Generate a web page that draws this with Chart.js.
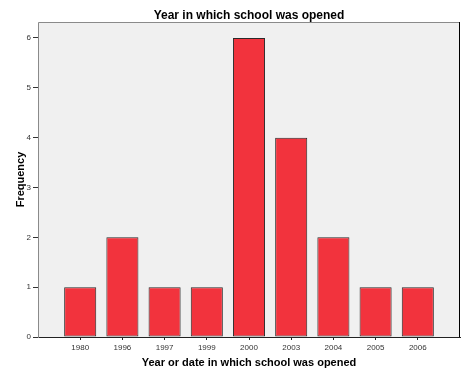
<!DOCTYPE html>
<html>
<head>
<meta charset="utf-8">
<script src="https://cdn.jsdelivr.net/npm/chart.js@4"></script>
<style>
  html, body { margin: 0; padding: 0; background: #fff; }
  #wrap { width: 468px; height: 374px; }
</style>
</head>
<body>
<div id="wrap"><canvas id="grafica" width="468" height="374"></canvas></div>
<script>
const years = ['1980', '1996', '1997', '1999', '2000', '2003', '2004', '2005', '2006'];
const frequencies = [1, 2, 1, 1, 6, 4, 2, 1, 1];
const yTicks = [0, 1, 2, 3, 4, 5, 6];

// plot background + frame like the SPSS output
const plotFrame = {
  id: 'plotFrame',
  beforeDatasetsDraw(chart) {
    const a = chart.chartArea, c = chart.ctx;
    c.save();
    c.fillStyle = '#f0f0f0';
    c.fillRect(a.left, a.top, a.right - a.left, a.bottom - a.top);
    c.lineWidth = 1;
    c.strokeStyle = '#8a8a8a';
    c.beginPath();
    c.moveTo(a.left + 0.5, a.bottom);
    c.lineTo(a.left + 0.5, a.top + 0.5);
    c.lineTo(a.right, a.top + 0.5);
    c.stroke();
    c.strokeStyle = '#000';
    c.beginPath();
    c.moveTo(a.right - 0.5, a.top);
    c.lineTo(a.right - 0.5, a.bottom);
    c.stroke();
    c.restore();
  }
};

const points = years.map((y, i) => ({ x: i, y: frequencies[i] }));

new Chart(document.getElementById('grafica'), {
  type: 'bar',
  data: {
    datasets: [{
      label: 'Frequency',
      data: points,
      backgroundColor: '#f2333d',
      borderColor: '#2a2a2a',
      borderWidth: 1,
      borderSkipped: false,
      categoryPercentage: 1,
      barPercentage: 0.76
    }]
  },
  plugins: [plotFrame],
  options: {
    responsive: false,
    animation: false,
    layout: { padding: { left: 0, right: 8, top: 0, bottom: 0 } },
    plugins: {
      legend: { display: false },
      tooltip: { enabled: false },
      title: {
        display: true,
        text: 'Year in which school was opened',
        fullSize: false,
        color: '#000',
        font: { family: 'Liberation Sans, Arial', size: 12, weight: 'bold', lineHeight: 1 },
        padding: { top: 10, bottom: 0 }
      }
    },
    scales: {
      x: {
        type: 'linear',
        offset: false,
        min: -1,
        max: years.length,
        afterFit: s => { s.height = 37; },
        afterBuildTicks: s => { s.ticks = years.map((y, i) => ({ value: i })); },
        ticks: {
          autoSkip: false,
          maxRotation: 0,
          padding: 3,
          color: '#333',
          font: { family: 'Liberation Sans, Arial', size: 8 },
          callback: v => years[v] ?? ''
        },
        grid: { offset: false, drawOnChartArea: false, tickLength: 3, color: '#222' },
        border: { display: true, color: '#222' },
        title: {
          display: true,
          text: 'Year or date in which school was opened',
          color: '#000',
          font: { family: 'Liberation Sans, Arial', size: 11, weight: 'bold' },
          padding: { top: 0, bottom: 4 }
        }
      },
      y: {
        min: 0,
        max: 6.32,
        afterFit: s => { s.width = 38; },
        afterBuildTicks: s => { s.ticks = yTicks.map(v => ({ value: v })); },
        ticks: {
          padding: 2,
          color: '#333',
          font: { family: 'Liberation Sans, Arial', size: 8 }
        },
        grid: { drawOnChartArea: false, tickLength: 5, color: '#333' },
        border: { display: true, color: '#8a8a8a' },
        title: {
          display: true,
          text: 'Frequency',
          color: '#000',
          font: { family: 'Liberation Sans, Arial', size: 11, weight: 'bold' },
          padding: { top: 14, bottom: 0 }
        }
      }
    }
  }
});
</script>
</body>
</html>
